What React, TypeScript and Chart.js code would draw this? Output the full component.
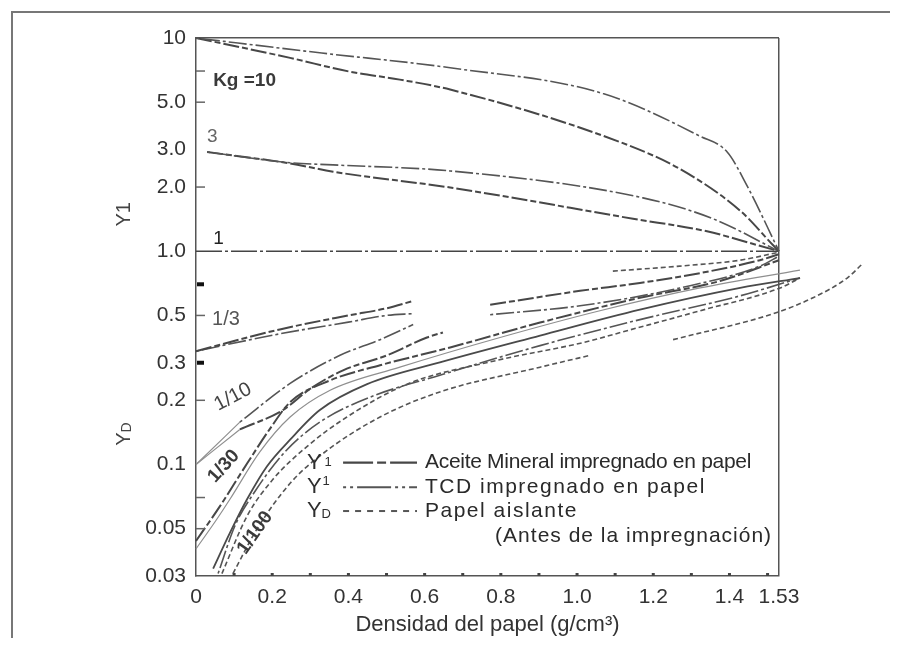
import React, { useEffect, useRef } from "react";
import { Chart, registerables } from "chart.js";

Chart.register(...registerables);

const FONT = "'Liberation Sans', Arial, Helvetica, sans-serif";

// ---- axis ticks ----
const xTicks = [0, 0.2, 0.4, 0.6, 0.8, 1.0, 1.2, 1.4, 1.53];
const xTickLabels = ["0", "0.2", "0.4", "0.6", "0.8", "1.0", "1.2", "1.4", "1.53"];
const yTicks = [0.03, 0.05, 0.1, 0.2, 0.3, 0.5, 1, 2, 3, 5, 10];
const yTickLabels = ["0.03", "0.05", "0.1", "0.2", "0.3", "0.5", "1.0", "2.0", "3.0", "5.0", "10"];
const yInnerTicks = [7, 5, 2, 0.5, 0.2, 0.07, 0.05];
const yBoldTicks = [0.7, 0.3];
const xMinorDots = [0.1, 0.2, 0.3, 0.4, 0.5, 0.6, 0.7, 0.8, 0.9, 1.0, 1.1, 1.2, 1.3, 1.4, 1.5];

// ---- Kg = 10 ----
const kg10TcdX = [0, 0.33, 0.667, 1.068, 1.323, 1.394, 1.446, 1.53];
const kg10TcdY = [10, 8.5, 7.25, 5.49, 3.46, 2.92, 2.03, 1];
const kg10OilX = [0, 0.247, 0.404, 0.535, 0.667, 1.113, 1.27, 1.428, 1.514, 1.53];
const kg10OilY = [10, 8.07, 6.95, 6.38, 5.73, 3.25, 2.43, 1.55, 1.07, 1];

// ---- Kg = 3 ----
const kg3TcdX = [0.029, 0.247, 0.36, 0.667, 1.173, 1.357, 1.53];
const kg3TcdY = [2.92, 2.6, 2.54, 2.38, 1.78, 1.42, 1];
const kg3OilX = [0.029, 0.247, 0.36, 0.667, 1.147, 1.341, 1.472, 1.53];
const kg3OilY = [2.92, 2.58, 2.36, 1.99, 1.42, 1.24, 1.07, 1];

// ---- Kg = 1 ----
const kg1X = [0, 1.53];
const kg1Y = [1, 1];

// ---- Kg = 1/3 ----
const kg3rdOilX = [0, 0.22, 0.4, 0.5, 0.57];
const kg3rdOilY = [0.34, 0.43, 0.5, 0.54, 0.585];
const kg3rdTcdX = [0, 0.22, 0.4, 0.5, 0.57];
const kg3rdTcdY = [0.34, 0.41, 0.465, 0.5, 0.51];

// ---- Kg = 1/10 ----
const kg10thThinAX = [0, 0.115];
const kg10thThinAY = [0.1, 0.158];
const kg10thThinBX = [0, 0.115];
const kg10thThinBY = [0.1, 0.146];
const kg10thTcdX = [0.115, 0.247, 0.378, 0.483, 0.57];
const kg10thTcdY = [0.158, 0.24, 0.325, 0.385, 0.453];
const kg10thOilX = [0.115, 0.228, 0.299, 0.386, 0.501, 0.606, 0.648];
const kg10thOilY = [0.146, 0.18, 0.226, 0.2765, 0.325, 0.394, 0.416];

// ---- upper right segments (after the gap) ----
const rightAX = [0.772, 1.008, 1.165, 1.323, 1.48, 1.53];
const rightAY = [0.561, 0.652, 0.71, 0.79, 0.908, 0.968];
const rightBX = [0.772, 1.008, 1.27, 1.48, 1.53];
const rightBY = [0.504, 0.555, 0.673, 0.852, 0.948];
const rightCX = [1.094, 1.27, 1.428, 1.53];
const rightCY = [0.807, 0.852, 0.908, 0.99];

// ---- Kg = 1/30 and 1/100 bundle ----
const b1X = [0, 0.063, 0.134, 0.194, 0.247, 0.352, 0.483, 0.667, 0.903, 1.165, 1.375, 1.53];
const b1Y = [0.0438, 0.0638, 0.101, 0.147, 0.196, 0.248, 0.292, 0.354, 0.463, 0.605, 0.725, 0.908];
const b2X = [0, 0.055, 0.089, 0.168, 0.247, 0.352, 0.535, 0.798, 1.06, 1.323, 1.585];
const b2Y = [0.0402, 0.0555, 0.0687, 0.1149, 0.167, 0.223, 0.286, 0.394, 0.526, 0.673, 0.816];
const b3X = [0.045, 0.089, 0.134, 0.186, 0.247, 0.325, 0.449, 0.64, 0.903, 1.165, 1.428, 1.585];
const b3Y = [0.0325, 0.0478, 0.0687, 0.0979, 0.1307, 0.18, 0.238, 0.301, 0.402, 0.532, 0.673, 0.749];
const b4X = [0.058, 0.102, 0.155, 0.234, 0.325, 0.457, 0.64, 0.903, 1.165, 1.428, 1.585];
const b4Y = [0.0308, 0.0515, 0.0749, 0.1149, 0.158, 0.207, 0.262, 0.361, 0.478, 0.618, 0.749];
const b5X = [0.068, 0.134, 0.202, 0.291, 0.396, 0.554, 0.79, 1.016, 1.131, 1.323, 1.533, 1.585];
const b5Y = [0.0308, 0.0573, 0.0852, 0.1213, 0.167, 0.238, 0.308, 0.373, 0.424, 0.526, 0.673, 0.749];
const b6aX = [0.097, 0.16, 0.247, 0.333, 0.483, 0.64, 0.903, 1.034];
const b6aY = [0.0308, 0.0498, 0.0816, 0.1125, 0.167, 0.219, 0.286, 0.325];
const b6bX = [1.252, 1.514, 1.619, 1.709, 1.751];
const b6bY = [0.385, 0.509, 0.605, 0.749, 0.88];

// ---- legend ----
const legendRowsY = [0.102, 0.0782, 0.0605];
const legendTexts = ["Aceite Mineral impregnado en papel", "TCD impregnado en papel", "Papel aislante"];
const legendNote = "(Antes de la impregnación)";

const STYLE: Record<string, any> = {
  oil: { borderDash: [16, 3, 6, 3], borderWidth: 2, borderColor: "#474747" },
  tcd: { borderDash: [3, 3, 18, 3], borderWidth: 1.6, borderColor: "#555555" },
  paper: { borderDash: [5, 3], borderWidth: 1.6, borderColor: "#555555" },
  solid: { borderDash: [], borderWidth: 1.8, borderColor: "#4a4a4a" },
  thin: { borderDash: [], borderWidth: 1.2, borderColor: "#8f8f8f" },
  kg1: { borderDash: [26, 3, 3, 3], borderWidth: 1.6, borderColor: "#444444" },
};

const series: [string, number[], number[], string][] = [
  ["Kg10 TCD", kg10TcdX, kg10TcdY, "tcd"],
  ["Kg10 Aceite", kg10OilX, kg10OilY, "oil"],
  ["Kg3 TCD", kg3TcdX, kg3TcdY, "tcd"],
  ["Kg3 Aceite", kg3OilX, kg3OilY, "oil"],
  ["Kg1", kg1X, kg1Y, "kg1"],
  ["Kg1/3 Aceite", kg3rdOilX, kg3rdOilY, "oil"],
  ["Kg1/3 TCD", kg3rdTcdX, kg3rdTcdY, "tcd"],
  ["Kg1/10 a", kg10thThinAX, kg10thThinAY, "thin"],
  ["Kg1/10 b", kg10thThinBX, kg10thThinBY, "thin"],
  ["Kg1/10 TCD", kg10thTcdX, kg10thTcdY, "tcd"],
  ["Kg1/10 Aceite", kg10thOilX, kg10thOilY, "oil"],
  ["Derecha A", rightAX, rightAY, "oil"],
  ["Derecha B", rightBX, rightBY, "tcd"],
  ["Derecha C", rightCX, rightCY, "paper"],
  ["B1", b1X, b1Y, "oil"],
  ["B2", b2X, b2Y, "thin"],
  ["B3", b3X, b3Y, "solid"],
  ["B4", b4X, b4Y, "tcd"],
  ["B5", b5X, b5Y, "paper"],
  ["B6a", b6aX, b6aY, "paper"],
  ["B6b", b6bX, b6bY, "paper"],
];

function drawText(ctx: any, s: string, x: number, y: number, font: string, color: string, rot = 0, align = "left", spacing = "0px") {
  ctx.save();
  ctx.translate(x, y);
  ctx.rotate(rot);
  ctx.font = font;
  ctx.fillStyle = color;
  ctx.textAlign = align;
  ctx.textBaseline = "middle";
  ctx.letterSpacing = spacing;
  ctx.fillText(s, 0, 0);
  ctx.restore();
}

const overlay = {
  id: "overlay",
  afterDraw(chart: any) {
    const { ctx, chartArea: a, scales } = chart;
    const X = (v: number) => scales.x.getPixelForValue(v);
    const Y = (v: number) => scales.y.getPixelForValue(v);
    const deg = Math.PI / 180;
    ctx.save();
    // inner tick marks on the left axis
    ctx.strokeStyle = "#666";
    ctx.lineWidth = 1.5;
    for (const v of yInnerTicks) {
      ctx.beginPath();
      ctx.moveTo(a.left, Y(v));
      ctx.lineTo(a.left + 9, Y(v));
      ctx.stroke();
    }
    ctx.strokeStyle = "#111";
    ctx.lineWidth = 4;
    for (const v of yBoldTicks) {
      ctx.beginPath();
      ctx.moveTo(a.left + 1, Y(v));
      ctx.lineTo(a.left + 8, Y(v));
      ctx.stroke();
    }
    // minor dots on the bottom axis
    ctx.fillStyle = "#444";
    for (const v of xMinorDots) ctx.fillRect(X(v) - 1.5, a.bottom - 3, 3, 3);

    // curve labels
    drawText(ctx, "Kg =10", X(0.045), Y(6.3), `bold 19px ${FONT}`, "#3a3a3a");
    drawText(ctx, "3", X(0.029), Y(3.43), `19px ${FONT}`, "#666");
    drawText(ctx, "1", X(0.045), Y(1.15), `19px ${FONT}`, "#222");
    drawText(ctx, "1/3", X(0.042), Y(0.477), `20px ${FONT}`, "#555");
    drawText(ctx, "1/10", X(0.097), Y(0.207), `20px ${FONT}`, "#444", -28 * deg, "center");
    drawText(ctx, "1/30", X(0.073), Y(0.098), `bold 19px ${FONT}`, "#3a3a3a", -48 * deg, "center");
    drawText(ctx, "1/100", X(0.155), Y(0.0478), `bold 19px ${FONT}`, "#3a3a3a", -55 * deg, "center");

    // y-axis titles (rotated)
    ctx.save();
    ctx.translate(a.left - 72, Y(1.49));
    ctx.rotate(-90 * deg);
    ctx.font = `20px ${FONT}`;
    ctx.fillStyle = "#444";
    ctx.textAlign = "center";
    ctx.textBaseline = "middle";
    ctx.fillText("Y1", 0, 0);
    ctx.restore();
    ctx.save();
    ctx.translate(a.left - 72, Y(0.139));
    ctx.rotate(-90 * deg);
    ctx.fillStyle = "#444";
    ctx.textBaseline = "middle";
    ctx.font = `20px ${FONT}`;
    const wY = ctx.measureText("Y").width;
    ctx.font = `14px ${FONT}`;
    const wD = ctx.measureText("D").width;
    ctx.font = `20px ${FONT}`;
    ctx.fillText("Y", -(wY + wD) / 2, 0);
    ctx.font = `14px ${FONT}`;
    ctx.fillText("D", -(wY + wD) / 2 + wY, 3);
    ctx.restore();

    // legend
    const lx = X(0.291);
    const sx0 = X(0.386);
    const sx1 = X(0.58);
    const tx = X(0.601);
    const styles = ["oil", "tcd", "paper"];
    legendRowsY.forEach((yv, i) => {
      const py = Y(yv);
      ctx.font = `22px ${FONT}`;
      ctx.fillStyle = "#2e2e2e";
      ctx.textBaseline = "middle";
      ctx.textAlign = "left";
      ctx.fillText("Y", lx, py);
      const wy = ctx.measureText("Y").width;
      ctx.font = `13px ${FONT}`;
      if (i === 0) ctx.fillText("1", lx + wy + 3, py);
      if (i === 1) ctx.fillText("1", lx + wy + 1, py - 6);
      if (i === 2) ctx.fillText("D", lx + wy, py + 3);
      const st = STYLE[styles[i]];
      ctx.save();
      ctx.strokeStyle = st.borderColor;
      ctx.lineWidth = st.borderWidth + 0.4;
      ctx.setLineDash(i === 0 ? [30, 4, 9, 4] : i === 1 ? [3, 4, 3, 4, 34, 4] : [6, 6]);
      ctx.beginPath();
      ctx.moveTo(sx0, py);
      ctx.lineTo(sx1, py);
      ctx.stroke();
      ctx.restore();
      drawText(ctx, legendTexts[i], tx, py, `21px ${FONT}`, "#2a2a2a", 0, "left", i === 0 ? "-0.3px" : "1.5px");
    });
    drawText(ctx, legendNote, X(0.785), Y(0.0462), `21px ${FONT}`, "#2a2a2a", 0, "left", "1px");
    ctx.restore();
  },
};

export default function App() {
  const ref = useRef<HTMLCanvasElement>(null);
  useEffect(() => {
    const datasets = series.map(([label, xs, ys, kind]) => ({
      label,
      data: xs.map((x, i) => ({ x, y: ys[i] })),
      ...STYLE[kind],
      pointRadius: 0,
      fill: false,
      clip: false,
      cubicInterpolationMode: "monotone",
    }));
    const chart = new Chart(ref.current as HTMLCanvasElement, {
      type: "line",
      data: { datasets } as any,
      options: {
        animation: false,
        responsive: false,
        devicePixelRatio: 1,
        layout: { padding: { top: 30, right: 117, bottom: 0, left: 0 } },
        plugins: { legend: { display: false }, tooltip: { enabled: false } },
        scales: {
          x: {
            type: "linear",
            bounds: "data",
            afterDataLimits: (s: any) => {
              s.min = 0;
              s.max = 1.53;
            },
            afterBuildTicks: (s: any) => {
              s.ticks = xTicks.map((v) => ({ value: v }));
            },
            afterFit: (s: any) => {
              s.height = 62;
            },
            ticks: {
              autoSkip: false,
              maxRotation: 0,
              padding: 9,
              color: "#333",
              font: { family: FONT, size: 21 },
              callback: (_v: any, i: number) => xTickLabels[i],
            },
            grid: {
              drawTicks: false,
              lineWidth: 1.5,
              color: (c: any) => (c.tick && c.tick.value === 1.53 ? "#555" : "rgba(0,0,0,0)"),
            },
            border: { display: true, color: "#555", width: 1.5 },
            title: {
              display: true,
              text: "Densidad del papel (g/cm³)",
              color: "#333",
              font: { family: FONT, size: 22 },
              padding: { top: 0, bottom: 0 },
            },
          },
          y: {
            type: "logarithmic",
            min: 0.03,
            max: 10,
            afterBuildTicks: (s: any) => {
              s.ticks = yTicks.map((v) => ({ value: v }));
            },
            afterFit: (s: any) => {
              s.width = 188;
            },
            ticks: {
              autoSkip: false,
              padding: 10,
              color: "#333",
              font: { family: FONT, size: 21 },
              callback: (_v: any, i: number) => yTickLabels[i],
            },
            grid: {
              drawTicks: false,
              lineWidth: 1.5,
              color: (c: any) => (c.tick && c.tick.value === 10 ? "#555" : "rgba(0,0,0,0)"),
            },
            border: { display: true, color: "#555", width: 1.5 },
          },
        },
      } as any,
      plugins: [overlay],
    });
    return () => chart.destroy();
  }, []);
  return (
    <div style={{ position: "relative", width: 888, height: 630, overflow: "hidden", background: "#fff" }}>
      <div
        style={{
          position: "absolute",
          left: 3,
          top: 3,
          width: 2000,
          height: 2000,
          borderLeft: "2px solid #777",
          borderTop: "2px solid #777",
        }}
      />
      <canvas ref={ref} width={888} height={630} style={{ position: "absolute", left: 0, top: 0 }} />
    </div>
  );
}
